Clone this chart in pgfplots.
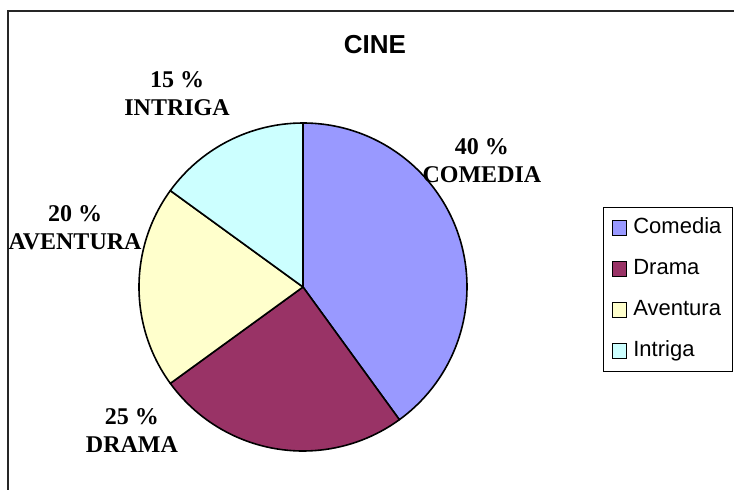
\documentclass[border=0pt]{standalone}
\usepackage{fontspec}
\setmainfont{Liberation Serif}
\setsansfont{Liberation Sans}
\usepackage{pgfplots}
\usepackage{pgfplotstable}
\pgfplotsset{compat=1.18}

\definecolor{comedia}{HTML}{9999FF}
\definecolor{drama}{HTML}{993366}
\definecolor{aventura}{HTML}{FFFFCC}
\definecolor{intriga}{HTML}{CCFFFF}

% share (%), slice colour, label position (axis units, pie radius = 1)
\pgfplotstableread{
genre    value colour    lx      ly
COMEDIA  40    comedia   1.091   0.768
DRAMA    25    drama    -1.043  -0.878
AVENTURA 20    aventura -1.390   0.360
INTRIGA  15    intriga  -0.768   1.180
}\cinedata

\begin{document}
\begin{tikzpicture}
% page is 734x489 px at 0.5pt per px, pie centre at the origin
\path[use as bounding box] (-151.5pt,-101pt) rectangle (215.5pt,143.5pt);
% chart frame (only left and top edges fall inside the page)
\draw[line width=1pt, black!85] (-147.5pt,-120pt) |- (240pt,138pt);

\begin{axis}[
  anchor=origin, at={(0,0)},
  x=82pt, y=82pt,
  xmin=-1.1, xmax=1.1, ymin=-1.1, ymax=1.1,
  hide axis, clip=false,
  legend cell align=left,
  legend style={
    at={(axis cs:1.829,0.488)}, anchor=north west,
    draw=black, line width=0.6pt,
    font=\sffamily\fontsize{11}{13}\selectfont,
    inner xsep=4pt, inner ysep=3.5pt,
    row sep=7pt,
    nodes={inner sep=1.5pt, text height=8pt, text depth=2.5pt},
  },
  legend image code/.code={%
    \draw[#1, line width=0.6pt] (0pt,-3.6pt) rectangle (7.2pt,3.6pt);
    \path (8.8pt,0pt);},
]

\pgfplotsextra{
  \gdef\cum{0}
  \foreach \i in {0,...,3}{
    \pgfplotstablegetelem{\i}{value}\of\cinedata \let\v=\pgfplotsretval
    \pgfplotstablegetelem{\i}{colour}\of\cinedata \let\c=\pgfplotsretval
    \pgfplotstablegetelem{\i}{genre}\of\cinedata \let\g=\pgfplotsretval
    \pgfplotstablegetelem{\i}{lx}\of\cinedata \let\lx=\pgfplotsretval
    \pgfplotstablegetelem{\i}{ly}\of\cinedata \let\ly=\pgfplotsretval
    \pgfmathsetmacro\a{90-3.6*\cum}
    \pgfmathsetmacro\b{90-3.6*(\cum+\v)}
    \filldraw[fill=\c, draw=black, line width=0.8pt, line join=round]
      (axis cs:0,0) -- (axis cs:{cos(\a)},{sin(\a)})
      arc[start angle=\a, end angle=\b, radius=82pt] -- cycle;
    \node[align=center, font=\bfseries\fontsize{12}{14}\selectfont]
      at (axis cs:\lx,\ly) {\v\ \%\\\g};
    \pgfmathsetmacro\n{\cum+\v}
    \xdef\cum{\n}
  }
}

\node[font=\sffamily\bfseries\fontsize{13}{15}\selectfont] at (axis cs:0.439,1.476) {CINE};

\addlegendimage{fill=comedia, draw=black}
\addlegendentry{Comedia}
\addlegendimage{fill=drama, draw=black}
\addlegendentry{Drama}
\addlegendimage{fill=aventura, draw=black}
\addlegendentry{Aventura}
\addlegendimage{fill=intriga, draw=black}
\addlegendentry{Intriga}
\end{axis}
\end{tikzpicture}
\end{document}
